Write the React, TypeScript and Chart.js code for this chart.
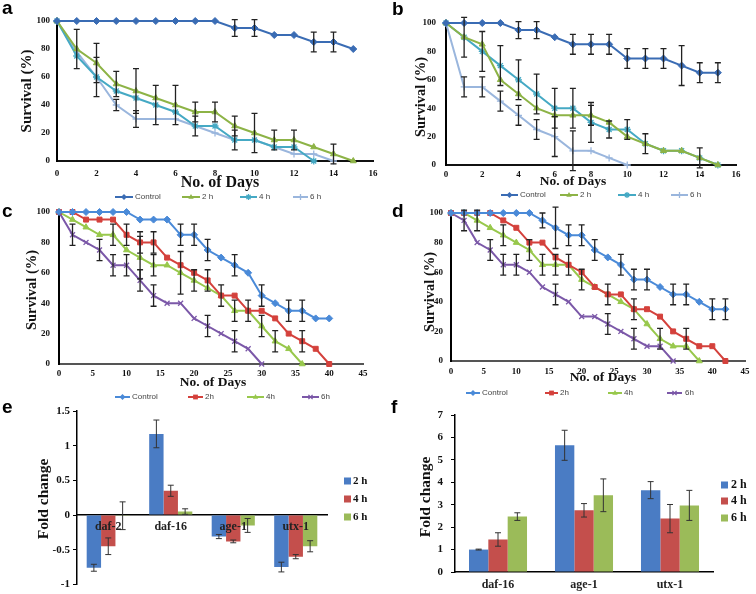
import React, { useEffect, useRef } from 'react';
import { Chart, registerables } from 'chart.js';
Chart.register(...registerables);

const W = 756;
const H = 594;
const SERIF = "'Liberation Serif', 'Times New Roman', serif";
const SANS = "'Liberation Sans', Arial, sans-serif";

// ---------- Panel a ----------
const A_DAYS = [0, 1, 2, 3, 4, 5, 6, 7, 8, 9, 10, 11, 12, 13, 14, 15];
const A_CONTROL = [100, 100, 100, 100, 100, 100, 100, 100, 100, 95, 95, 90, 90, 85, 85, 80];
const A_CONTROL_ERR = [0, 0, 0, 0, 0, 0, 0, 0, 0, 6, 6, 0, 0, 7, 7, 0];
const A_2H = [100, 80, 70, 55, 50, 45, 40, 35, 35, 25, 20, 15, 15, 10, 5, 0];
const A_2H_ERR = [0, 14, 14, 9, 16, 0, 14, 7, 7, 7, 14, 7, 7, 0, 7, 0];
const A_4H = [100, 75, 60, 50, 45, 40, 35, 25, 25, 15, 15, 10, 10, 0];
const A_4H_ERR = [0, 0, 14, 0, 0, 14, 0, 0, 0, 7, 0, 0, 0, 0];
const A_6H = [100, 78, 60, 40, 30, 30, 30, 25, 20, 15, 15, 10, 5, 5, 0];
const A_6H_ERR = [0, 0, 0, 4, 6, 0, 0, 7, 0, 0, 0, 0, 0, 0, 0];

// ---------- Panel b ----------
const B_DAYS = [0, 1, 2, 3, 4, 5, 6, 7, 8, 9, 10, 11, 12, 13, 14, 15];
const B_CONTROL = [100, 100, 100, 100, 95, 95, 90, 85, 85, 85, 75, 75, 75, 70, 65, 65];
const B_CONTROL_ERR = [0, 0, 0, 0, 6, 6, 0, 7, 7, 7, 7, 7, 7, 14, 7, 7];
const B_2H = [100, 90, 85, 60, 50, 40, 35, 35, 35, 30, 20, 15, 10, 10, 5, 0];
const B_2H_ERR = [0, 14, 0, 0, 0, 0, 0, 0, 7, 0, 0, 0, 0, 0, 7, 0];
const B_4H = [100, 90, 80, 70, 60, 50, 40, 40, 30, 25, 25, 15, 10, 10, 5, 0];
const B_4H_ERR = [0, 0, 14, 14, 14, 14, 14, 14, 14, 6, 7, 7, 0, 0, 0, 0];
const B_6H = [100, 55, 55, 45, 35, 25, 20, 10, 10, 5, 0];
const B_6H_ERR = [0, 7, 7, 7, 7, 7, 14, 14, 0, 0, 0];

// ---------- Panel c ----------
const C_DAYS = [0, 2, 4, 6, 8, 10, 12, 14, 16, 18, 20, 22, 24, 26, 28, 30, 32, 34, 36, 38, 40];
const C_CONTROL = [100, 100, 100, 100, 100, 100, 95, 95, 95, 85, 85, 75, 70, 65, 60, 45, 40, 35, 35, 30, 30];
const C_CONTROL_ERR = [0, 0, 0, 0, 0, 0, 0, 0, 0, 7, 7, 7, 0, 7, 0, 7, 0, 7, 7, 0, 0];
const C_2H = [100, 100, 95, 95, 95, 85, 80, 80, 70, 65, 60, 55, 45, 45, 35, 35, 30, 20, 15, 10, 0];
const C_2H_ERR = [0, 0, 0, 0, 0, 7, 7, 7, 0, 0, 0, 7, 7, 0, 7, 0, 0, 0, 7, 0, 0];
const C_4H = [100, 95, 90, 85, 85, 75, 70, 65, 65, 60, 55, 50, 45, 35, 35, 25, 15, 10, 0];
const C_4H_ERR = [0, 0, 0, 0, 7, 0, 14, 7, 0, 14, 7, 0, 0, 7, 0, 7, 7, 0, 0];
const C_6H = [100, 85, 80, 75, 65, 65, 55, 45, 40, 40, 30, 25, 20, 15, 10, 0];
const C_6H_ERR = [0, 7, 0, 7, 7, 7, 7, 7, 0, 0, 0, 7, 0, 7, 0, 0];

// ---------- Panel d ----------
const D_DAYS = [0, 2, 4, 6, 8, 10, 12, 14, 16, 18, 20, 22, 24, 26, 28, 30, 32, 34, 36, 38, 40, 42];
const D_CONTROL = [100, 100, 100, 100, 100, 100, 100, 95, 90, 85, 85, 75, 70, 65, 55, 55, 50, 45, 45, 40, 35, 35];
const D_CONTROL_ERR = [0, 0, 0, 0, 0, 0, 0, 5, 14, 7, 7, 7, 0, 7, 7, 7, 0, 7, 7, 0, 7, 7];
const D_2H = [100, 100, 100, 100, 95, 90, 80, 80, 70, 65, 60, 50, 45, 45, 35, 35, 30, 20, 15, 10, 10, 0];
const D_2H_ERR = [0, 0, 0, 0, 0, 0, 0, 0, 0, 0, 0, 0, 7, 0, 7, 0, 0, 0, 7, 0, 0, 0];
const D_4H = [100, 100, 95, 90, 85, 80, 75, 65, 65, 65, 55, 50, 45, 40, 35, 25, 15, 10, 10, 0];
const D_4H_ERR = [0, 0, 7, 0, 7, 0, 7, 7, 7, 7, 7, 0, 0, 0, 0, 0, 7, 0, 0, 0];
const D_6H = [100, 95, 80, 75, 65, 65, 60, 50, 45, 40, 30, 30, 25, 20, 15, 10, 10, 0];
const D_6H_ERR = [0, 7, 0, 7, 7, 7, 0, 0, 7, 0, 0, 0, 7, 0, 7, 0, 0, 0];

// ---------- Panel e ----------
const E_GENES = ['daf-2', 'daf-16', 'age-1', 'utx-1'];
const E_2H = [-0.76, 1.17, -0.31, -0.75];
const E_2H_ERR = [0.05, 0.2, 0.03, 0.07];
const E_4H = [-0.45, 0.35, -0.38, -0.6];
const E_4H_ERR = [0.12, 0.08, 0.02, 0.03];
const E_6H = [-0.01, 0.05, -0.15, -0.45];
const E_6H_ERR = [0.2, 0.04, 0.1, 0.08];

// ---------- Panel f ----------
const F_GENES = ['daf-16', 'age-1', 'utx-1'];
const F_2H = [1.0, 5.65, 3.65];
const F_2H_ERR = [0.02, 0.67, 0.38];
const F_4H = [1.45, 2.75, 2.38];
const F_4H_ERR = [0.3, 0.3, 0.63];
const F_6H = [2.47, 3.42, 2.97];
const F_6H_ERR = [0.17, 0.73, 0.67];

const LINE_LABELS_AB = ['Control', '2 h', '4 h', '6 h'];
const LINE_LABELS_CD = ['Control', '2h', '4h', '6h'];
const BAR_LABELS = ['2 h', '4 h', '6 h'];

const AB_COLORS = ['#3a6cb4', '#8db346', '#45a9c4', '#9ab6dd'];
const AB_STYLES = ['rectRot', 'triangle', 'star', 'cross'];
const CD_COLORS = ['#4a8ad8', '#d4413c', '#98c84c', '#7b58a8'];
const CD_STYLES = ['rectRot', 'rect', 'triangle', 'crossRot'];
const BAR_COLORS = ['#4a7cc4', '#c44f4c', '#9bbb59'];

type Area = { L: number; T: number; R: number; B: number };
type DrawFn = (ctx: CanvasRenderingContext2D, chart: any) => void;

function pad(a: Area, yw: number, xh: number) {
  return { left: a.L - yw, top: a.T, right: W - a.R, bottom: H - a.B - xh };
}

function drawMarker(ctx: CanvasRenderingContext2D, style: string, x: number, y: number, r: number, color: string) {
  ctx.save();
  ctx.fillStyle = color;
  ctx.strokeStyle = color;
  ctx.lineWidth = 1.3;
  ctx.beginPath();
  if (style === 'rectRot') {
    ctx.moveTo(x, y - r); ctx.lineTo(x + r, y); ctx.lineTo(x, y + r); ctx.lineTo(x - r, y); ctx.closePath(); ctx.fill();
  } else if (style === 'rect') {
    ctx.rect(x - r * 0.8, y - r * 0.8, r * 1.6, r * 1.6); ctx.fill();
  } else if (style === 'triangle') {
    ctx.moveTo(x, y - r); ctx.lineTo(x + r * 0.9, y + r * 0.6); ctx.lineTo(x - r * 0.9, y + r * 0.6); ctx.closePath(); ctx.fill();
  } else if (style === 'crossRot') {
    ctx.moveTo(x - r * 0.7, y - r * 0.7); ctx.lineTo(x + r * 0.7, y + r * 0.7);
    ctx.moveTo(x + r * 0.7, y - r * 0.7); ctx.lineTo(x - r * 0.7, y + r * 0.7); ctx.stroke();
  } else if (style === 'star') {
    ctx.moveTo(x - r * 0.7, y - r * 0.7); ctx.lineTo(x + r * 0.7, y + r * 0.7);
    ctx.moveTo(x + r * 0.7, y - r * 0.7); ctx.lineTo(x - r * 0.7, y + r * 0.7);
    ctx.moveTo(x, y - r); ctx.lineTo(x, y + r); ctx.stroke();
  } else {
    ctx.moveTo(x - r, y); ctx.lineTo(x + r, y);
    ctx.moveTo(x, y - r); ctx.lineTo(x, y + r); ctx.stroke();
  }
  ctx.restore();
}

const errorBars = {
  id: 'errbars',
  afterDatasetsDraw(chart: any) {
    const ctx = chart.ctx as CanvasRenderingContext2D;
    const o = chart.options.plugins.errbars || {};
    chart.data.datasets.forEach((ds: any, i: number) => {
      const errs = ds.errors;
      if (!errs) return;
      const meta = chart.getDatasetMeta(i);
      const ys = chart.scales[meta.yAxisID];
      meta.data.forEach((el: any, j: number) => {
        const e = errs[j];
        if (!e) return;
        const raw = ds.data[j];
        const v = typeof raw === 'number' ? raw : raw.y;
        const x = el.x;
        const y1 = ys.getPixelForValue(v + e);
        const y2 = ys.getPixelForValue(v - e);
        const c = o.cap ?? 3;
        ctx.save();
        ctx.strokeStyle = o.color || '#222';
        ctx.lineWidth = o.width || 1.2;
        ctx.beginPath();
        ctx.moveTo(x, y1); ctx.lineTo(x, y2);
        ctx.moveTo(x - c, y1); ctx.lineTo(x + c, y1);
        ctx.moveTo(x - c, y2); ctx.lineTo(x + c, y2);
        ctx.stroke();
        ctx.restore();
      });
    });
  },
};

function textPlugin(draw: DrawFn) {
  return {
    id: 'texts',
    afterDraw(chart: any) {
      const ctx = chart.ctx as CanvasRenderingContext2D;
      ctx.save();
      draw(ctx, chart);
      ctx.restore();
    },
  };
}

function txt(ctx: CanvasRenderingContext2D, s: string, x: number, y: number, font: string, color = '#111', align: CanvasTextAlign = 'center', rot = 0) {
  ctx.save();
  ctx.font = font;
  ctx.fillStyle = color;
  ctx.textAlign = align;
  ctx.textBaseline = 'middle';
  ctx.translate(x, y);
  if (rot) ctx.rotate(rot);
  ctx.fillText(s, 0, 0);
  ctx.restore();
}

function letter(ctx: CanvasRenderingContext2D, s: string, x: number, y: number) {
  ctx.save();
  ctx.font = `bold 19px ${SANS}`;
  ctx.fillStyle = '#000';
  ctx.textAlign = 'left';
  ctx.textBaseline = 'alphabetic';
  ctx.fillText(s, x, y);
  ctx.restore();
}

type LegendItem = { x1: number; x2: number; tx: number };

function lineLegend(ctx: CanvasRenderingContext2D, y: number, items: LegendItem[], labels: string[], colors: string[], styles: string[]) {
  items.forEach((it, i) => {
    ctx.save();
    ctx.strokeStyle = colors[i];
    ctx.lineWidth = 2;
    ctx.beginPath();
    ctx.moveTo(it.x1, y);
    ctx.lineTo(it.x2, y);
    ctx.stroke();
    ctx.restore();
    drawMarker(ctx, styles[i], (it.x1 + it.x2) / 2, y, 3, colors[i]);
    txt(ctx, labels[i], it.tx, y, `8px ${SANS}`, '#444', 'left');
  });
}

function lineConfig(opts: {
  area: Area; yw: number; xh: number; xMax: number; xStep: number;
  ylabPad: number; xlabPad: number; xAxisColor: string;
  series: { days: number[]; values: number[]; errors: number[] }[];
  colors: string[]; styles: string[]; labels: string[];
  draw: DrawFn;
}) {
  const tickFont = { family: SERIF, weight: 'bold' as const, size: 9 };
  const datasets = opts.series.map((s, i) => ({
    label: opts.labels[i],
    data: s.days.map((d, k) => ({ x: d, y: s.values[k] })),
    errors: s.errors,
    borderColor: opts.colors[i],
    backgroundColor: opts.colors[i],
    pointBackgroundColor: opts.colors[i],
    pointBorderColor: opts.colors[i],
    pointStyle: opts.styles[i],
    pointRadius: 3.5,
    pointBorderWidth: opts.styles[i] === 'star' || opts.styles[i] === 'cross' || opts.styles[i] === 'crossRot' ? 1.3 : 1,
    borderWidth: 2,
    tension: 0,
    clip: false as any,
  }));
  return {
    type: 'line' as const,
    data: { datasets },
    options: {
      responsive: false,
      animation: false as const,
      layout: { padding: pad(opts.area, opts.yw, opts.xh) },
      plugins: { legend: { display: false }, tooltip: { enabled: false }, errbars: { color: '#222', width: 1.3, cap: 3 } },
      scales: {
        x: {
          type: 'linear' as const,
          min: 0,
          max: opts.xMax,
          ticks: { stepSize: opts.xStep, font: tickFont, color: '#111', padding: opts.xlabPad, maxRotation: 0, autoSkip: false },
          grid: { display: false, drawTicks: false },
          border: { color: opts.xAxisColor, width: 2 },
          afterFit: (s: any) => { s.height = opts.xh; },
        },
        y: {
          min: 0,
          max: 100,
          ticks: { stepSize: 20, font: tickFont, color: '#111', padding: opts.ylabPad },
          grid: { display: false, drawTicks: false },
          border: { color: '#000', width: 2 },
          afterFit: (s: any) => { s.width = opts.yw; },
        },
      },
    },
    plugins: [errorBars, textPlugin(opts.draw)],
  };
}

function barConfig(opts: {
  area: Area; yw: number; xh: number; genes: string[]; min: number; max: number; step: number;
  atZero: boolean; catPct: number; ylabPad: number; xlabPad: number;
  values: number[][]; errors: number[][];
  draw: DrawFn;
}) {
  const datasets = opts.values.map((v, i) => ({
    label: BAR_LABELS[i],
    data: v,
    errors: opts.errors[i],
    backgroundColor: BAR_COLORS[i],
    borderWidth: 0,
    categoryPercentage: opts.catPct,
    barPercentage: 1,
  }));
  return {
    type: 'bar' as const,
    data: { labels: opts.genes, datasets },
    options: {
      responsive: false,
      animation: false as const,
      layout: { padding: pad(opts.area, opts.yw, opts.xh) },
      plugins: { legend: { display: false }, tooltip: { enabled: false }, errbars: { color: '#333', width: 1, cap: 3 } },
      scales: {
        x: {
          position: opts.atZero ? ({ y: 0 } as any) : 'bottom',
          ticks: {
            display: !opts.atZero,
            font: { family: SERIF, weight: 'bold' as const, size: 12 },
            color: '#222',
            padding: opts.xlabPad,
            maxRotation: 0,
          },
          grid: { display: false, drawTicks: false },
          border: { color: '#000', width: 1.5 },
          afterFit: (s: any) => { if (!opts.atZero) s.height = opts.xh; },
        },
        y: {
          min: opts.min,
          max: opts.max,
          ticks: {
            stepSize: opts.step,
            font: { family: SERIF, weight: 'bold' as const, size: 11 },
            color: '#111',
            padding: opts.ylabPad,
            callback: (v: any) => String(Math.round(Number(v) * 10) / 10),
          },
          grid: { display: true, drawOnChartArea: false, drawTicks: true, tickLength: 4, color: '#000', lineWidth: 1 },
          border: { color: '#000', width: 1.5 },
          afterFit: (s: any) => { s.width = opts.yw; },
        },
      },
    },
    plugins: [errorBars, textPlugin(opts.draw)],
  };
}

function barLegend(ctx: CanvasRenderingContext2D, sx: number, tx: number, ys: number[], size: number, fontSize: number) {
  ys.forEach((y, i) => {
    ctx.fillStyle = BAR_COLORS[i];
    ctx.fillRect(sx, y - size / 2, size, size);
    txt(ctx, BAR_LABELS[i], tx, y, `bold ${fontSize}px ${SERIF}`, '#111', 'left');
  });
}

const configs = [
  () =>
    lineConfig({
      area: { L: 57, T: 21, R: 373, B: 161 }, yw: 40, xh: 16, xMax: 16, xStep: 2, ylabPad: 7, xlabPad: 7, xAxisColor: '#111',
      series: [
        { days: A_DAYS, values: A_CONTROL, errors: A_CONTROL_ERR },
        { days: A_DAYS, values: A_2H, errors: A_2H_ERR },
        { days: A_DAYS.slice(0, A_4H.length), values: A_4H, errors: A_4H_ERR },
        { days: A_DAYS.slice(0, A_6H.length), values: A_6H, errors: A_6H_ERR },
      ],
      colors: AB_COLORS, styles: AB_STYLES, labels: LINE_LABELS_AB,
      draw: (ctx) => {
        letter(ctx, 'a', 2, 14);
        txt(ctx, 'Survival (%)', 27, 91, `bold 15px ${SERIF}`, '#111', 'center', -Math.PI / 2);
        txt(ctx, 'No. of Days', 220, 183, `bold 16px ${SERIF}`);
        lineLegend(ctx, 197, [
          { x1: 115, x2: 133, tx: 135 }, { x1: 182, x2: 200, tx: 202 }, { x1: 240, x2: 257, tx: 259 }, { x1: 293, x2: 308, tx: 310 },
        ], LINE_LABELS_AB, AB_COLORS, AB_STYLES);
      },
    }),
  () =>
    lineConfig({
      area: { L: 446, T: 23, R: 736, B: 165 }, yw: 40, xh: 14, xMax: 16, xStep: 2, ylabPad: 10, xlabPad: 4, xAxisColor: '#111',
      series: [
        { days: B_DAYS, values: B_CONTROL, errors: B_CONTROL_ERR },
        { days: B_DAYS, values: B_2H, errors: B_2H_ERR },
        { days: B_DAYS, values: B_4H, errors: B_4H_ERR },
        { days: B_DAYS.slice(0, B_6H.length), values: B_6H, errors: B_6H_ERR },
      ],
      colors: AB_COLORS, styles: AB_STYLES, labels: LINE_LABELS_AB,
      draw: (ctx) => {
        letter(ctx, 'b', 392, 15);
        txt(ctx, 'Survival (%)', 421, 97, `bold 14.5px ${SERIF}`, '#111', 'center', -Math.PI / 2);
        txt(ctx, 'No. of Days', 573, 182, `bold 13.5px ${SERIF}`);
        lineLegend(ctx, 195, [
          { x1: 501, x2: 518, tx: 520 }, { x1: 560, x2: 578, tx: 580 }, { x1: 618, x2: 636, tx: 638 }, { x1: 671, x2: 688, tx: 690 },
        ], LINE_LABELS_AB, AB_COLORS, AB_STYLES);
      },
    }),
  () =>
    lineConfig({
      area: { L: 59, T: 212, R: 363, B: 364 }, yw: 40, xh: 14, xMax: 45, xStep: 5, ylabPad: 9, xlabPad: 4, xAxisColor: '#555',
      series: [
        { days: C_DAYS, values: C_CONTROL, errors: C_CONTROL_ERR },
        { days: C_DAYS, values: C_2H, errors: C_2H_ERR },
        { days: C_DAYS.slice(0, C_4H.length), values: C_4H, errors: C_4H_ERR },
        { days: C_DAYS.slice(0, C_6H.length), values: C_6H, errors: C_6H_ERR },
      ],
      colors: CD_COLORS, styles: CD_STYLES, labels: LINE_LABELS_CD,
      draw: (ctx) => {
        letter(ctx, 'c', 2, 217);
        txt(ctx, 'Survival (%)', 32, 290, `bold 14.5px ${SERIF}`, '#111', 'center', -Math.PI / 2);
        txt(ctx, 'No. of Days', 213, 383, `bold 13.5px ${SERIF}`);
        lineLegend(ctx, 397, [
          { x1: 115, x2: 130, tx: 132 }, { x1: 188, x2: 203, tx: 205 }, { x1: 247, x2: 264, tx: 266 }, { x1: 302, x2: 319, tx: 321 },
        ], LINE_LABELS_CD, CD_COLORS, CD_STYLES);
      },
    }),
  () =>
    lineConfig({
      area: { L: 451, T: 213, R: 745, B: 361 }, yw: 40, xh: 14, xMax: 45, xStep: 5, ylabPad: 8, xlabPad: 5, xAxisColor: '#555',
      series: [
        { days: D_DAYS, values: D_CONTROL, errors: D_CONTROL_ERR },
        { days: D_DAYS, values: D_2H, errors: D_2H_ERR },
        { days: D_DAYS.slice(0, D_4H.length), values: D_4H, errors: D_4H_ERR },
        { days: D_DAYS.slice(0, D_6H.length), values: D_6H, errors: D_6H_ERR },
      ],
      colors: CD_COLORS, styles: CD_STYLES, labels: LINE_LABELS_CD,
      draw: (ctx) => {
        letter(ctx, 'd', 392, 217);
        txt(ctx, 'Survival (%)', 430, 292, `bold 14.5px ${SERIF}`, '#111', 'center', -Math.PI / 2);
        txt(ctx, 'No. of Days', 603, 378, `bold 13.5px ${SERIF}`);
        lineLegend(ctx, 393, [
          { x1: 466, x2: 480, tx: 482 }, { x1: 545, x2: 558, tx: 560 }, { x1: 608, x2: 622, tx: 624 }, { x1: 667, x2: 682, tx: 685 },
        ], LINE_LABELS_CD, CD_COLORS, CD_STYLES);
      },
    }),
  () =>
    barConfig({
      area: { L: 77, T: 411, R: 327, B: 587 }, yw: 30, xh: 0, genes: E_GENES, min: -1, max: 1.5, step: 0.5,
      atZero: true, catPct: 0.69, ylabPad: 3, xlabPad: 5,
      values: [E_2H, E_4H, E_6H], errors: [E_2H_ERR, E_4H_ERR, E_6H_ERR],
      draw: (ctx, chart) => {
        letter(ctx, 'e', 2, 413);
        txt(ctx, 'Fold change', 44, 499, `bold 15.5px ${SERIF}`, '#111', 'center', -Math.PI / 2);
        const xs = chart.scales.x;
        const y0 = chart.scales.y.getPixelForValue(0) + 12;
        E_GENES.forEach((g, i) => {
          txt(ctx, g, xs.getPixelForTick(i), y0, `bold 12px ${SERIF}`, '#222');
        });
        barLegend(ctx, 344, 353, [481, 499, 517], 7, 11);
      },
    }),
  () =>
    barConfig({
      area: { L: 455, T: 415, R: 713, B: 572 }, yw: 30, xh: 20, genes: F_GENES, min: 0, max: 7, step: 1,
      atZero: false, catPct: 0.675, ylabPad: 8, xlabPad: 6,
      values: [F_2H, F_4H, F_6H], errors: [F_2H_ERR, F_4H_ERR, F_6H_ERR],
      draw: (ctx) => {
        letter(ctx, 'f', 391, 413);
        txt(ctx, 'Fold change', 426, 497, `bold 15.5px ${SERIF}`, '#111', 'center', -Math.PI / 2);
        barLegend(ctx, 721, 731, [485, 501, 518], 7, 12);
      },
    }),
];

function Panel({ make }: { make: () => any }) {
  const ref = useRef<HTMLCanvasElement>(null);
  useEffect(() => {
    const chart = new Chart(ref.current as HTMLCanvasElement, make());
    return () => chart.destroy();
  }, [make]);
  return (
    <canvas
      ref={ref}
      width={W}
      height={H}
      style={{ position: 'absolute', left: 0, top: 0, width: W, height: H }}
    />
  );
}

export default function App() {
  return (
    <div style={{ position: 'absolute', left: 0, top: 0, width: W, height: H, background: '#fff', overflow: 'hidden' }}>
      {configs.map((m, i) => (
        <Panel key={i} make={m} />
      ))}
    </div>
  );
}
